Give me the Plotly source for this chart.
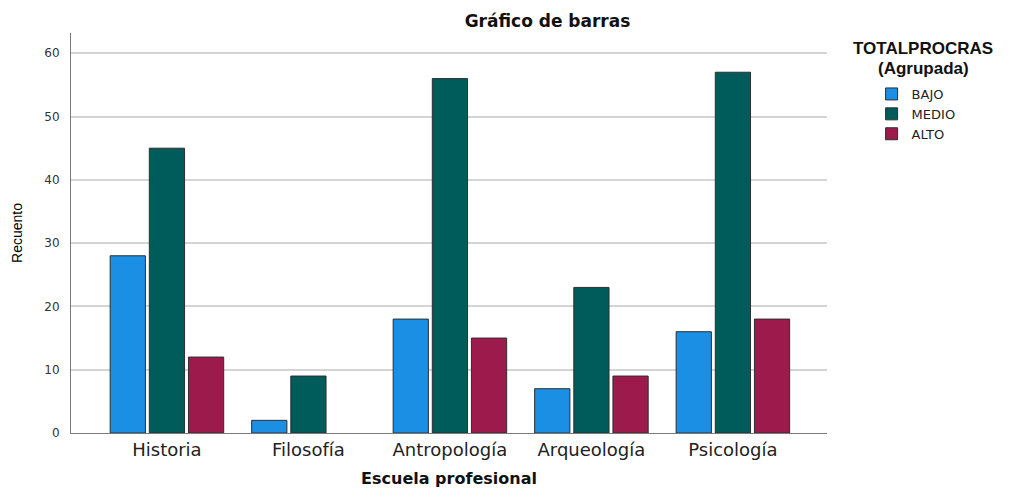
import plotly.graph_objects as go

categories = ["Historia", "Filosofía", "Antropología", "Arqueología", "Psicología"]
bajo = [28, 2, 18, 7, 16]
medio = [45, 9, 56, 23, 57]
alto = [12, None, 15, 9, 18]
series_names = ["BAJO", "MEDIO", "ALTO"]
colors = ["#1A8FE3", "#005B5B", "#9D1A4D"]
y_ticks = [0, 10, 20, 30, 40, 50, 60]

DJ = "DejaVu Sans, Verdana, sans-serif"
LIB = "Liberation Sans, Arial, sans-serif"

# the page body has an 8px margin, so the figure is offset by (8, 8)
fig = go.Figure()
for name, vals, col in zip(series_names, [bajo, medio, alto], colors):
    fig.add_trace(go.Bar(
        x=categories, y=vals, name=name,
        marker=dict(color=col, line=dict(color="#2e2e2e", width=1)),
    ))

fig.update_layout(
    width=1016, height=489,
    paper_bgcolor="white", plot_bgcolor="white",
    margin=dict(l=63, r=197, t=25, b=64, autoexpand=False),
    barmode="group", bargap=0.17, bargroupgap=0.1,
    font=dict(family=DJ, color="#222"),
    title=dict(text="<b>Gráfico de barras</b>", x=0.531, xanchor="center",
               y=0.973, yanchor="middle", automargin=False,
               font=dict(size=17, family=DJ, color="#111")),
    legend=dict(
        x=1.059, xanchor="left", y=0.885, yanchor="top",
        font=dict(size=13, family=DJ, color="#222"),
        itemwidth=30, tracegroupgap=0, bgcolor="rgba(0,0,0,0)",
    ),
    xaxis=dict(
        range=[-0.678, 4.665], automargin=False,
        showline=True, linecolor="#7a7a7a", linewidth=1,
        tickfont=dict(size=18, family=DJ, color="#222"),
        ticks="", showgrid=False, ticklabelstandoff=0,
        title=dict(text="<b>Escuela profesional</b>",
                   font=dict(size=16, family=DJ, color="#111"), standoff=14),
    ),
    yaxis=dict(
        range=[0, 63.2], tickvals=y_ticks, automargin=False,
        showline=True, linecolor="#7a7a7a", linewidth=1,
        showgrid=True, gridcolor="#d4d4d4", gridwidth=1.6,
        zeroline=False,
        tickfont=dict(size=12, family=DJ, color="#333"),
        ticks="", ticklabelstandoff=8,
        title=dict(text="Recuento", font=dict(size=14, family=LIB, color="#000"),
                   standoff=18),
    ),
    annotations=[
        dict(text="<b>TOTALPROCRAS</b>", xref="paper", yref="paper",
             x=(923 - 71) / 756, y=(433 - 48.5) / 400, xanchor="center", yanchor="middle",
             showarrow=False, font=dict(size=17, family=LIB, color="#111")),
        dict(text="<b>(Agrupada)</b>", xref="paper", yref="paper",
             x=(923 - 71) / 756, y=(433 - 68) / 400, xanchor="center", yanchor="middle",
             showarrow=False, font=dict(size=17, family=LIB, color="#111")),
    ],
)

fig.write_html("out.html")
